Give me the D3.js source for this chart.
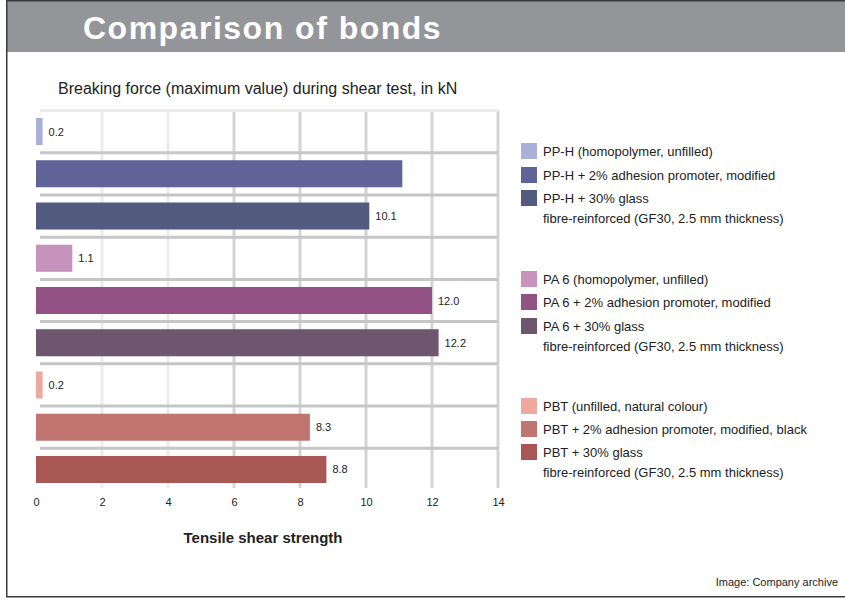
<!DOCTYPE html>
<html>
<head>
<meta charset="utf-8">
<script src="https://cdn.jsdelivr.net/npm/d3@7"></script>
<style>
body { margin: 0; background: #fff; }
text { font-family: "Liberation Sans", Arial, sans-serif; }
</style>
</head>
<body>
<div id="chart"></div>
<script>
// chart data
var bars = ["a1", "a2", "a3", "b1", "b2", "b3", "c1", "c2", "c3"]
var values = [0.2, 11.1, 10.1, 1.1, 12.0, 12.2, 0.2, 8.3, 8.8]
var valueLabels = ["0.2", "", "10.1", "1.1", "12.0", "12.2", "0.2", "8.3", "8.8"]
var colours = ["#a9b1d8", "#5f6398", "#525b7f", "#c693bd", "#925284", "#6e566e", "#eda9a0", "#c07570", "#a85754"]
var legendLines = [
	["PP-H (homopolymer, unfilled)"],
	["PP-H + 2% adhesion promoter, modified"],
	["PP-H + 30% glass", "fibre-reinforced (GF30, 2.5 mm thickness)"],
	["PA 6 (homopolymer, unfilled)"],
	["PA 6 + 2% adhesion promoter, modified"],
	["PA 6 + 30% glass", "fibre-reinforced (GF30, 2.5 mm thickness)"],
	["PBT (unfilled, natural colour)"],
	["PBT + 2% adhesion promoter, modified, black"],
	["PBT + 30% glass", "fibre-reinforced (GF30, 2.5 mm thickness)"]
]
var ticks = [0, 2, 4, 6, 8, 10, 12, 14]

var w = 845, h = 600

var svg = d3.select("#chart")
	.append("svg")
	.attr("width", w)
	.attr("height", h)

// frame and title bar
svg.append("rect")
	.attr("x", 7).attr("y", 0)
	.attr("width", 838).attr("height", 52)
	.style("fill", "#949598")

svg.append("rect")
	.attr("x", 6.75).attr("y", 0.75)
	.attr("width", 845).attr("height", 596)
	.style("fill", "none")
	.style("stroke", "#3a3a3a")
	.style("stroke-width", 1.5)

svg.append("text")
	.attr("x", 83).attr("y", 39)
	.style("font-size", "32px")
	.style("font-weight", "bold")
	.style("letter-spacing", "1.5px")
	.style("fill", "#fff")
	.text("Comparison of bonds")

svg.append("text")
	.attr("x", 58).attr("y", 94)
	.style("font-size", "16px")
	.style("fill", "#222")
	.text("Breaking force (maximum value) during shear test, in kN")

// scales
var x = d3.scaleLinear()
	.domain([0, 14])
	.range([36, 498])

var y = d3.scaleBand()
	.domain(bars)
	.range([118, 483])
	.paddingInner(0.36)

var gap = y.step() - y.bandwidth()

var gridG = svg.append("g")
var barG = svg.append("g")

// vertical grid
gridG.selectAll(".vLine")
	.data(ticks.slice(1))
	.enter()
	.append("line")
	.classed("vLine", true)
	.attr("x1", function(d) {return x(d)})
	.attr("x2", function(d) {return x(d)})
	.attr("y1", y(bars[0]) - gap / 2)
	.attr("y2", 488)
	.style("stroke", function(d) {return d < 6 ? "#ececec" : "#d4d4d4"})
	.style("stroke-width", 3)

// horizontal separators between bars
gridG.selectAll(".hLine")
	.data(bars)
	.enter()
	.append("line")
	.classed("hLine", true)
	.attr("x1", 40)
	.attr("x2", 498)
	.attr("y1", function(d) {return y(d) - gap / 2})
	.attr("y2", function(d) {return y(d) - gap / 2})
	.style("stroke", function(d, i) {return i == 0 ? "#ececec" : "#c6c6c6"})
	.style("stroke-width", 3)

// bars
barG.selectAll(".bar")
	.data(values)
	.enter()
	.append("rect")
	.classed("bar", true)
	.attr("x", x(0))
	.attr("y", function(d, i) {return y(bars[i])})
	.attr("width", function(d) {return x(d) - x(0)})
	.attr("height", y.bandwidth())
	.style("fill", function(d, i) {return colours[i]})

barG.selectAll(".val")
	.data(values)
	.enter()
	.append("text")
	.classed("val", true)
	.attr("x", function(d) {return x(d) + 6})
	.attr("y", function(d, i) {return y(bars[i]) + y.bandwidth() / 2 + 4})
	.style("font-size", "11px")
	.style("fill", "#222")
	.text(function(d, i) {return valueLabels[i]})

// x axis labels
var xAxis = d3.axisBottom(x)
	.tickValues(ticks)
	.tickSize(0)
	.tickPadding(0)

var axisG = svg.append("g")
	.attr("transform", "translate(0,498)")
	.call(xAxis)

axisG.select(".domain").remove()
axisG.selectAll("text")
	.style("font-family", "'Liberation Sans', Arial, sans-serif")
	.style("font-size", "11px")
	.style("fill", "#222")

svg.append("text")
	.attr("x", 263).attr("y", 543)
	.attr("text-anchor", "middle")
	.style("font-size", "15px")
	.style("font-weight", "bold")
	.style("fill", "#222")
	.text("Tensile shear strength")

// legend
var legendY = [151, 175, 198, 279, 302, 326, 406, 429, 452]

var legend = svg.append("g")
	.selectAll(".legend")
	.data(legendLines)
	.enter()
	.append("g")
	.classed("legend", true)
	.attr("transform", function(d, i) {return "translate(521," + legendY[i] + ")"})

legend.append("rect")
	.attr("x", 0).attr("y", -8)
	.attr("width", 16).attr("height", 16)
	.style("fill", function(d, i) {return colours[i]})

legend.append("text")
	.attr("x", 22).attr("y", 5)
	.style("font-size", "13px")
	.style("fill", "#222")
	.selectAll("tspan")
	.data(function(d) {return d})
	.enter()
	.append("tspan")
	.attr("x", 22)
	.attr("dy", function(d, i) {return i == 0 ? 0 : 20})
	.text(function(d) {return d})

svg.append("text")
	.attr("x", 838).attr("y", 586)
	.attr("text-anchor", "end")
	.style("font-size", "11px")
	.style("fill", "#222")
	.text("Image: Company archive")
</script>
</body>
</html>
